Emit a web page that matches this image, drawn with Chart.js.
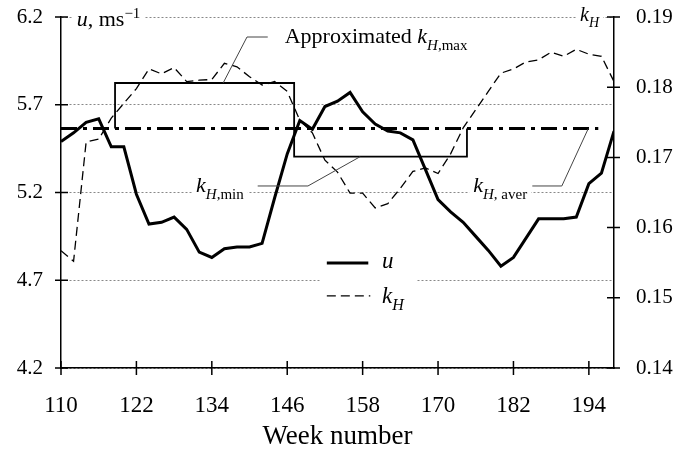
<!DOCTYPE html>
<html>
<head>
<meta charset="utf-8">
<script src="https://cdn.jsdelivr.net/npm/chart.js@4"></script>
<style>
  html, body { margin: 0; padding: 0; background: #fff; }
  canvas { display: block; }
</style>
</head>
<body>
<canvas id="chart" width="678" height="452"></canvas>
<script>
// week numbers (every second week)
const weeks = [110, 112, 114, 116, 118, 120, 122, 124, 126, 128,
               130, 132, 134, 136, 138, 140, 142, 144, 146, 148,
               150, 152, 154, 156, 158, 160, 162, 164, 166, 168,
               170, 172, 174, 176, 178, 180, 182, 184, 186, 188,
               190, 192, 194, 196, 198];

// wind speed u, m/s (left axis)
const uValues = [5.49, 5.54, 5.60, 5.62, 5.46, 5.46, 5.19, 5.02, 5.03, 5.06,
                 4.99, 4.86, 4.83, 4.88, 4.89, 4.89, 4.91, 5.17, 5.42, 5.61,
                 5.56, 5.69, 5.72, 5.77, 5.66, 5.59, 5.55, 5.54, 5.50, 5.33,
                 5.16, 5.09, 5.03, 4.95, 4.87, 4.78, 4.83, 4.94, 5.05, 5.05,
                 5.05, 5.06, 5.25, 5.31, 5.55];

// k_H (right axis)
const kValues = [0.1567, 0.1552, 0.1722, 0.1726, 0.1756, 0.1777, 0.1798, 0.1826, 0.1819, 0.1828,
                 0.1808, 0.1810, 0.1811, 0.1834, 0.1829, 0.1815, 0.1803, 0.1808, 0.1794, 0.1753,
                 0.1735, 0.1696, 0.1679, 0.1649, 0.1649, 0.1628, 0.1634, 0.1656, 0.1680, 0.1685,
                 0.1677, 0.1705, 0.1742, 0.1768, 0.1794, 0.1820, 0.1826, 0.1836, 0.1839, 0.1850,
                 0.1844, 0.1854, 0.1847, 0.1844, 0.1808];

// average k_H line
const kAverWeeks = [110, 195.5];
const kAverValues = [0.1741, 0.1741];

// approximated k_H step (max / min)
const stepWeeks = [118.6, 118.6, 147.1, 147.1, 174.6, 174.6];
const stepValues = [0.1741, 0.1806, 0.1806, 0.1701, 0.1701, 0.1741];

const uTicks = [4.2, 4.7, 5.2, 5.7, 6.2];
const kTicks = [0.14, 0.15, 0.16, 0.17, 0.18, 0.19];
const weekTicks = [110, 122, 134, 146, 158, 170, 182, 194];

const FONT = '"Liberation Serif", "Times New Roman", serif';

function pts(xs, ys) { return xs.map((x, i) => ({x: x, y: ys[i]})); }

// text notes, anchored in (week, k) units
const notes = [
  {w: 145.6, k: 0.1863, size: 22, parts: [{t: 'Approximated '}, {t: 'k', i: 1}, {t: 'H', i: 1, sub: 1}, {t: ',max', sub: 1}]},
  {w: 131.5, k: 0.16507, size: 22, gap: 1, parts: [{t: 'k', i: 1}, {t: 'H', i: 1, sub: 1}, {t: ',min', sub: 1}]},
  {w: 175.6, k: 0.16507, size: 22, gap: 1, parts: [{t: 'k', i: 1}, {t: 'H', i: 1, sub: 1}, {t: ', aver', sub: 1}]},
  {w: 112.5, k: 0.1887, size: 22, gap: 1, parts: [{t: 'u', i: 1}, {t: ', ms'}, {t: '\u22121', sup: 1}]},
  {w: 192.6, k: 0.1894, size: 20, gap: 1, parts: [{t: 'k', i: 1}, {t: 'H', i: 1, sub: 1}]},
  {w: 161.1, k: 0.1542, size: 23, parts: [{t: 'u', i: 1}]},
  {w: 161.1, k: 0.1493, size: 23, parts: [{t: 'k', i: 1}, {t: 'H', i: 1, sub: 1}]}
];

// thin leader lines from labels to the lines
const leaders = [
  [[142.9, 0.18715], [139.6, 0.18715], [135.8, 0.1806]],
  [[141.3, 0.16593], [149.3, 0.16593], [157.6, 0.1701]],
  [[185.0, 0.16593], [189.7, 0.16593], [193.9, 0.1741]]
];

function partFont(p, size) {
  const fs = (p.sub || p.sup) ? Math.round(size * 0.68) : size;
  return (p.i ? 'italic ' : '') + fs + 'px ' + FONT;
}

function measure(ctx, n) {
  let w = 0;
  n.parts.forEach(p => { ctx.font = partFont(p, n.size); w += ctx.measureText(p.t).width; });
  return w;
}

function drawRich(ctx, x, y, n) {
  n.parts.forEach(p => {
    ctx.font = partFont(p, n.size);
    const dy = p.sub ? n.size * 0.3 : (p.sup ? -n.size * 0.38 : 0);
    ctx.fillText(p.t, x, y + dy);
    x += ctx.measureText(p.t).width;
  });
}

function noPad(s) { s.paddingTop = 0; s.paddingBottom = 0; }

const decor = {
  id: 'decor',
  beforeDatasetsDraw(chart) {
    const {ctx, scales: {x, y, y2}} = chart;
    ctx.save();
    ctx.fillStyle = '#fff';
    notes.filter(n => n.gap).forEach(n => {
      const px = x.getPixelForValue(n.w), py = y2.getPixelForValue(n.k);
      ctx.fillRect(px - 4, py - 16, measure(ctx, n) + 8, 22);
    });
    // gap in the grid line behind the legend
    const gy = y.getPixelForValue(4.7);
    ctx.fillRect(x.getPixelForValue(151.2), gy - 4, x.getPixelForValue(166.6) - x.getPixelForValue(151.2), 8);
    ctx.restore();
  },
  afterDraw(chart) {
    const {ctx, chartArea: a, scales: {x, y, y2}} = chart;
    ctx.save();
    ctx.strokeStyle = '#000';
    ctx.lineWidth = 1.5;
    ctx.beginPath();
    uTicks.forEach(v => { const py = y.getPixelForValue(v); ctx.moveTo(a.left - 6, py); ctx.lineTo(a.left + 7, py); });
    kTicks.forEach(v => { const py = y2.getPixelForValue(v); ctx.moveTo(a.right - 7, py); ctx.lineTo(a.right + 6, py); });
    weekTicks.forEach(v => { const px = x.getPixelForValue(v); ctx.moveTo(px, a.bottom - 7); ctx.lineTo(px, a.bottom + 7); });
    ctx.stroke();

    // leader lines
    ctx.strokeStyle = '#444';
    ctx.lineWidth = 1;
    leaders.forEach(l => {
      ctx.beginPath();
      l.forEach((p, i) => {
        const px = x.getPixelForValue(p[0]), py = y2.getPixelForValue(p[1]);
        if (i) ctx.lineTo(px, py); else ctx.moveTo(px, py);
      });
      ctx.stroke();
    });

    // legend samples
    const lx0 = x.getPixelForValue(152.3), lx1 = x.getPixelForValue(158.9);
    ctx.strokeStyle = '#000';
    ctx.lineWidth = 3;
    ctx.beginPath();
    ctx.moveTo(lx0, y2.getPixelForValue(0.15496));
    ctx.lineTo(lx1, y2.getPixelForValue(0.15496));
    ctx.stroke();
    ctx.lineWidth = 1.3;
    ctx.setLineDash([9, 5]);
    ctx.beginPath();
    ctx.moveTo(lx0, y2.getPixelForValue(0.15026));
    ctx.lineTo(lx1 + 2, y2.getPixelForValue(0.15026));
    ctx.stroke();
    ctx.setLineDash([]);

    // text
    ctx.fillStyle = '#000';
    ctx.textBaseline = 'alphabetic';
    ctx.textAlign = 'left';
    notes.forEach(n => drawRich(ctx, x.getPixelForValue(n.w), y2.getPixelForValue(n.k), n));

    ctx.font = '27px ' + FONT;
    ctx.textAlign = 'center';
    ctx.textBaseline = 'middle';
    ctx.fillText('Week number', (a.left + a.right) / 2, 437);
    ctx.restore();
  }
};

new Chart(document.getElementById('chart'), {
  type: 'line',
  data: {
    datasets: [
      {label: 'u', data: pts(weeks, uValues), yAxisID: 'y', borderColor: '#000', borderWidth: 3, pointRadius: 0, tension: 0},
      {label: 'kH', data: pts(weeks, kValues), yAxisID: 'y2', borderColor: '#000', borderWidth: 1.3, borderDash: [9, 5], pointRadius: 0, tension: 0},
      {label: 'kH,aver', data: pts(kAverWeeks, kAverValues), yAxisID: 'y2', borderColor: '#000', borderWidth: 3, borderDash: [16, 6, 4, 6], pointRadius: 0},
      {label: 'approx', data: pts(stepWeeks, stepValues), yAxisID: 'y2', borderColor: '#000', borderWidth: 1.8, pointRadius: 0, tension: 0}
    ]
  },
  options: {
    responsive: false,
    animation: false,
    events: [],
    layout: {padding: {top: 17, left: 0, right: 0, bottom: 0}},
    plugins: {legend: {display: false}, tooltip: {enabled: false}},
    scales: {
      x: {
        type: 'linear', min: 110, max: 198,
        afterBuildTicks: s => { s.ticks = weekTicks.map(v => ({value: v})); },
        afterFit: s => { s.height = 84; s.paddingLeft = 0; s.paddingRight = 0; },
        grid: {display: false, drawTicks: false},
        border: {color: '#000', width: 1.5},
        ticks: {padding: 24, color: '#000', font: {family: FONT, size: 23}, callback: v => String(v), maxRotation: 0}
      },
      y: {
        position: 'left', min: 4.2, max: 6.2,
        afterBuildTicks: s => { s.ticks = uTicks.map(v => ({value: v})); },
        afterFit: s => { s.width = 61; noPad(s); },
        grid: {color: '#888', lineWidth: 1, drawTicks: false},
        border: {color: '#000', width: 1.5, dash: [2, 2]},
        ticks: {padding: 18, color: '#000', font: {family: FONT, size: 21}, callback: v => v.toFixed(1)}
      },
      y2: {
        position: 'right', min: 0.14, max: 0.19,
        afterBuildTicks: s => { s.ticks = kTicks.map(v => ({value: v})); },
        afterFit: s => { s.width = 64; noPad(s); },
        grid: {display: false, drawTicks: false},
        border: {color: '#000', width: 1.5},
        ticks: {padding: 22, color: '#000', font: {family: FONT, size: 21}, callback: v => v.toFixed(2)}
      }
    }
  },
  plugins: [decor]
});
</script>
</body>
</html>
